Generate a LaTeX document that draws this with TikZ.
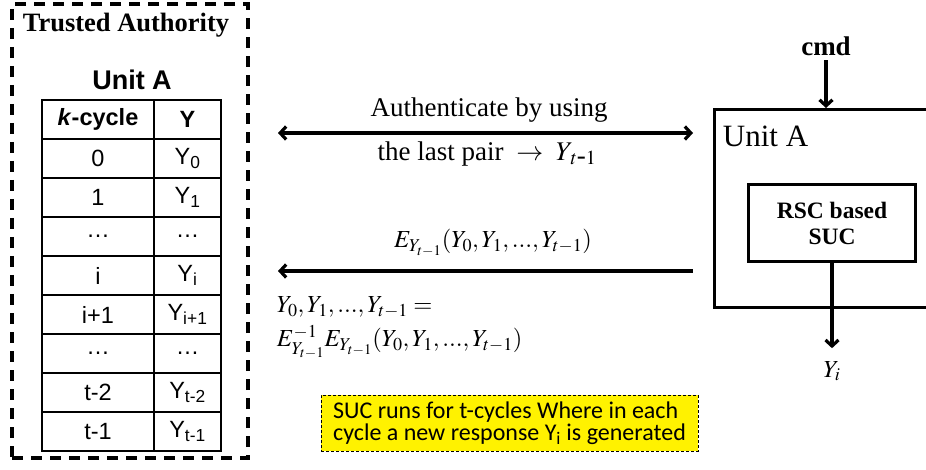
\documentclass[tikz,border=0pt]{standalone}
\usepackage{mathptmx}
\usepackage{fontspec}
\setmainfont{Liberation Serif}
\newfontfamily\arialfont{Liberation Sans}
\newfontfamily\calibrifont{Carlito}
\usetikzlibrary{arrows.meta,positioning}

\begin{document}
\begin{tikzpicture}[x=1pt,y=-1pt,>={Straight Barb[length=6pt,width=13pt]},line width=3.2pt,auto]
  \tikzstyle{cell}=[draw,line width=1.5pt,minimum height=39pt,inner sep=0pt,
                    font=\arialfont\fontsize{23.5}{26}\selectfont]
  \tikzstyle{kcell}=[cell,minimum width=112pt]
  \tikzstyle{ycell}=[cell,minimum width=67pt]
  \tikzstyle{block}=[draw,line width=3.2pt,inner sep=0pt]
  \tikzstyle{serif}=[font=\fontsize{27}{30}\selectfont]
  \tikzstyle{mathtext}=[font=\fontsize{24.5}{28}\selectfont]
  \useasboundingbox (0,0) rectangle (926,470);
  \clip (0,0) rectangle (926,470);

  % trusted authority side
  \node[draw,line width=3.2pt,dash pattern=on 11pt off 8pt,
        minimum width=236pt,minimum height=454pt] (ta) at (130,231) {};
  \node[font=\bfseries\fontsize{26.5}{30}\selectfont] (tatitle) at (126,25) {Trusted Authority};
  \node[font=\arialfont\bfseries\fontsize{27}{30}\selectfont] (tunit) at (132,80) {Unit A};

  \foreach \k/\y [count=\r] in {{\textbf{\textit{k}-cycle}}/{\textbf{Y}},
      0/{Y\textsubscript{0}}, 1/{Y\textsubscript{1}}, …/…, i/{Y\textsubscript{i}},
      i+1/{Y\textsubscript{i+1}}, …/…, t-2/{Y\textsubscript{t-2}}, t-1/{Y\textsubscript{t-1}}}
  {
    \node[kcell] (k\r) at (98,80.5+39*\r) {\k};
    \node[ycell] (y\r) at (187.5,80.5+39*\r) {\y};
  }

  % unit A
  \node[block,minimum width=240pt,minimum height=198pt,anchor=north west] (unit) at (713,108) {};
  \node[anchor=west,font=\fontsize{31}{34}\selectfont] (uname) at (718,136) {Unit A};
  \node[block,minimum width=167pt,minimum height=77pt,align=center,
        font=\bfseries\fontsize{23.5}{26}\selectfont] (suc) at (832,223) {RSC based\\SUC};
  \node[font=\bfseries\fontsize{27}{30}\selectfont] (cmd) at (826,46) {cmd};
  \node[mathtext] (yi) at (832,371) {$Y_i$};

  % messages
  \coordinate (al) at (278,133);
  \coordinate (bl) at (278,271);
  \node[serif] (auth1) at (489,110) {Authenticate by using};
  \node[serif] (auth2) at (487,154) {the last pair $\;\rightarrow\;$ $Y_{\,t\mbox{-}1}$};
  \node[mathtext] (enc) at (493,243) {$E_{Y_{t-1}}(Y_0,Y_1,{...},Y_{t-1})$};
  \node[mathtext,anchor=west] (dec1) at (272,307) {$Y_0,Y_1,{...},Y_{t-1} =$};
  \node[mathtext,anchor=west] (dec2) at (272,342) {$E^{-1}_{Y_{t-1}}E_{Y_{t-1}}(Y_0,Y_1,{...},Y_{t-1})$};

  \path (al) edge[<->,shorten >=20pt] (al -| unit.west)
        (bl) edge[<-,shorten >=20pt] (bl -| unit.west)
        (cmd) edge[->] (cmd |- unit.north)
        (suc) edge[->,shorten >=8pt] (yi);

  \node[draw,line width=0.8pt,dash pattern=on 3pt off 2pt,fill=yellow,
        minimum width=377pt,minimum height=56pt,inner sep=4pt,align=left,
        font=\calibrifont\fontsize{24}{22}\selectfont] (note) at (509.5,423)
        {SUC runs for t-cycles Where in each\\cycle a new response Y\textsubscript{i} is generated};
\end{tikzpicture}
\end{document}
